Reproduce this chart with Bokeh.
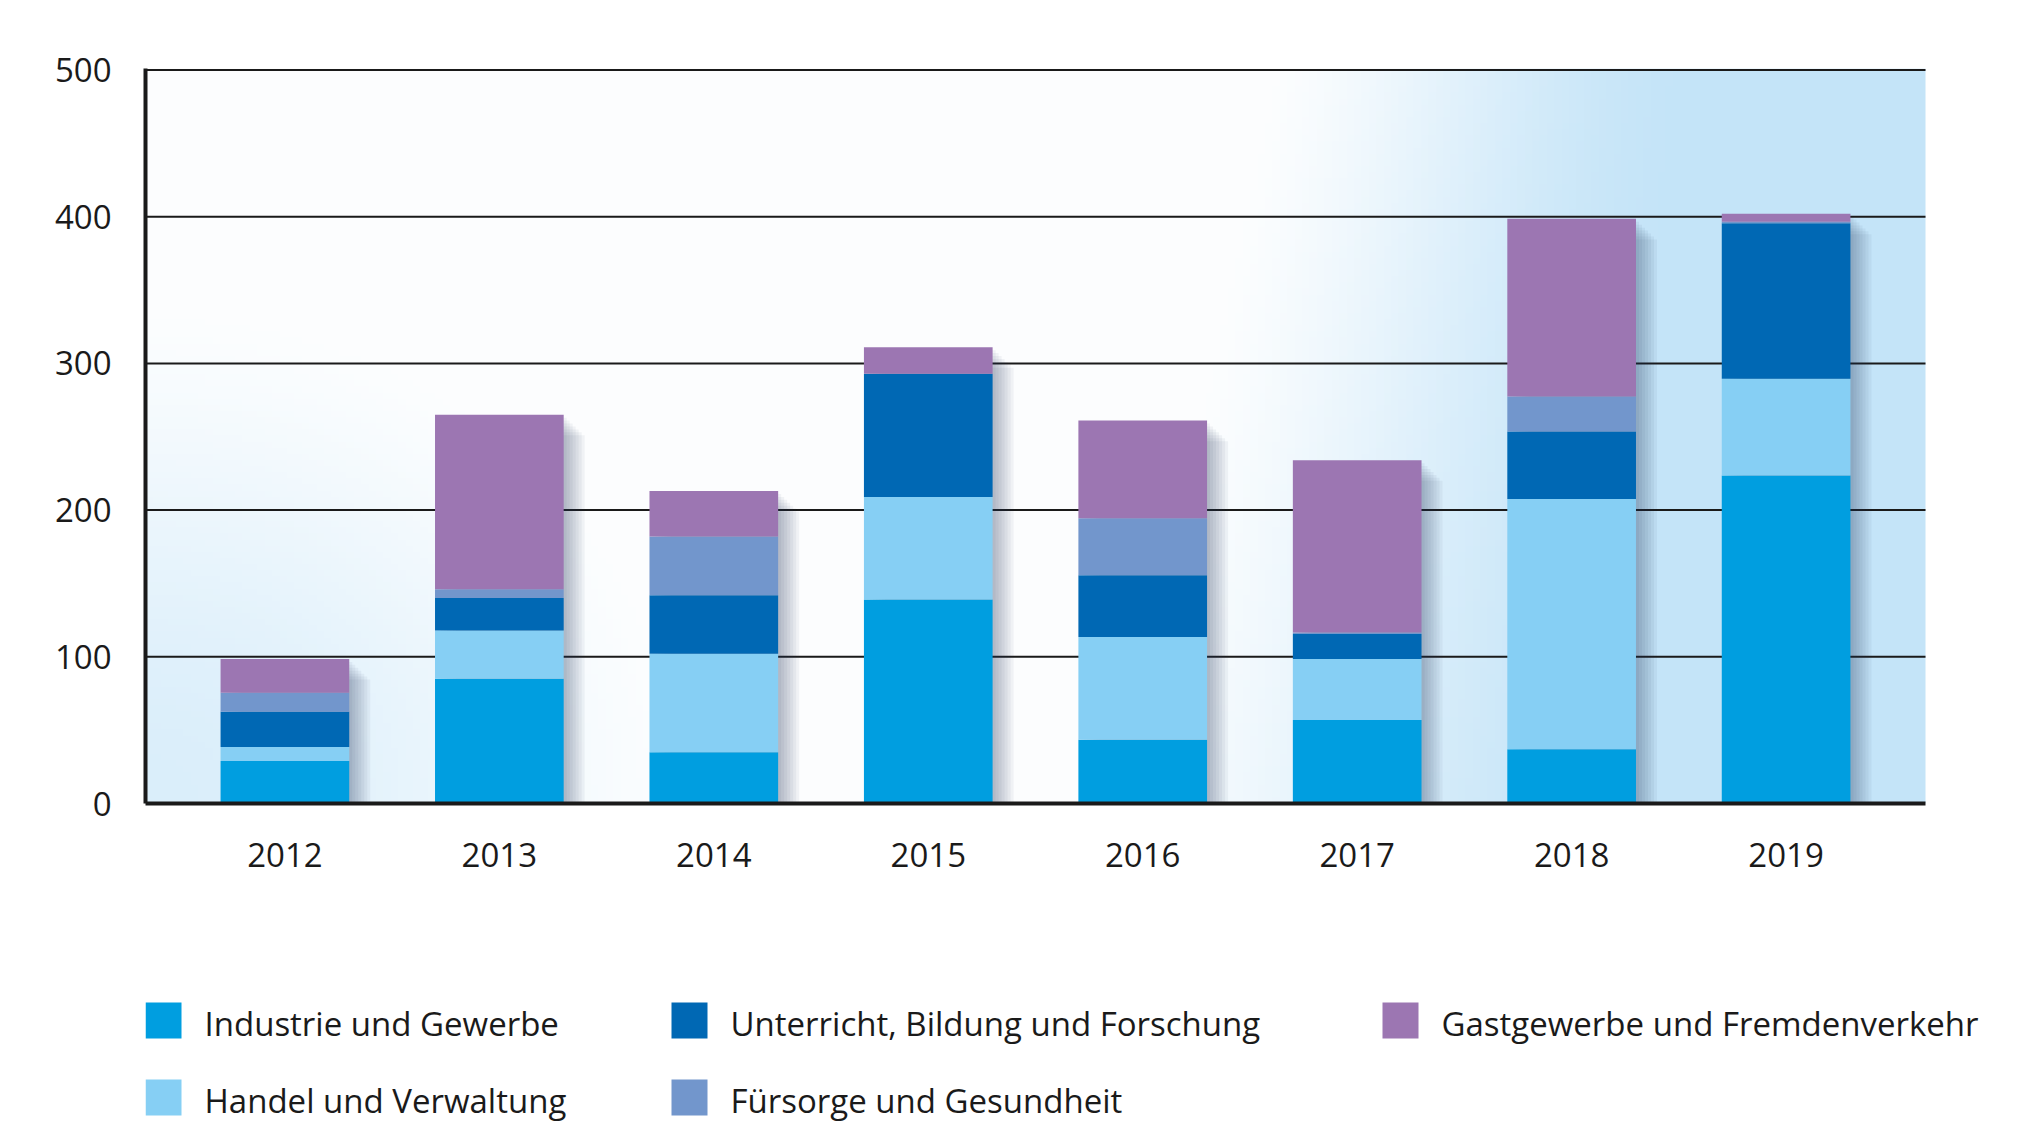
import numpy as np
from bokeh.plotting import figure
from bokeh.layouts import column
from bokeh.models import ColumnDataSource, FixedTicker, Range1d
from bokeh.core.properties import value
from bokeh.embed import file_html
from bokeh.resources import INLINE

years = ["2012", "2013", "2014", "2015", "2016", "2017", "2018", "2019"]
industrie = [29, 85, 35, 139, 43.5, 57, 37, 223.5]
handel = [9.5, 33, 67, 70, 70, 41.5, 170.5, 66]
unterricht = [24, 22, 40, 84, 42, 17, 46, 106]
fuersorge = [13, 6, 40, 0, 39, 1, 24, 1]
gast = [23, 119, 31, 18, 66.5, 117.5, 121, 5.5]
y_ticks = [0, 100, 200, 300, 400, 500]

series = ["industrie", "handel", "unterricht", "fuersorge", "gast"]
labels = ["Industrie und Gewerbe", "Handel und Verwaltung",
          "Unterricht, Bildung und Forschung", "Fürsorge und Gesundheit",
          "Gastgewerbe und Fremdenverkehr"]
colors = ["#009ee0", "#86cff4", "#0068b4", "#7296cc", "#9c76b2"]

FONT = "Open Sans"
TXT = "#1a1a1a"
W = 2008
BL, BR = 145, 8
X0, X1 = -0.65, len(years) - 0.35           # visible chart area
XEND = X0 + (W - BR - BL) * (X1 - X0) / 1780.0  # frame extends past chart (for legend room)

x = list(range(len(years)))
src = ColumnDataSource(dict(x=x, industrie=industrie, handel=handel,
                            unterricht=unterricht, fuersorge=fuersorge, gast=gast))
totals = [sum(v) for v in zip(industrie, handel, unterricht, fuersorge, gast)]

p = figure(width=W, height=908, output_backend="svg", toolbar_location=None,
           x_range=Range1d(X0, XEND), y_range=Range1d(0, 501),
           min_border_left=BL, min_border_right=BR, min_border_top=68,
           min_border_bottom=105)
p.outline_line_color = None
p.background_fill_color = "white"
p.border_fill_color = "white"

# background gradient (style only)
nx, ny = 240, 120
u = np.linspace(0, 1, nx)[None, :]
v = np.linspace(0, 1, ny)[:, None]
def sstep(a):
    a = np.clip(a, 0, 1)
    return a * a * (3 - 2 * a)
t1 = sstep((u - (0.5 + 0.1 * v)) / (0.35 - 0.07 * v))
g = 0.62 * sstep(1 - np.sqrt((u / 0.36) ** 2 + (v / 0.8) ** 2))
t = np.maximum(np.maximum(t1, g), 0.04)
blue = np.array([196, 228, 248])
img = np.empty((ny, nx), dtype=np.uint32)
view = img.view(dtype=np.uint8).reshape((ny, nx, 4))
for k in range(3):
    view[:, :, k] = (255 + (blue[k] - 255) * t).astype(np.uint8)
view[:, :, 3] = 255
p.image_rgba(image=[img], x=X0, y=0, dw=X1 - X0, dh=501, level="image")

# horizontal grid lines limited to the chart area
gl = [yt for yt in y_ticks if yt > 0]
p.segment(x0=[X0] * len(gl), x1=[X1] * len(gl), y0=gl, y1=gl,
          line_color="#1a1a1a", line_width=2, level="image")

# shadows
bw = 0.6
for i in range(1, 8):
    dx = 0.014 * i
    p.quad(left=[xi - bw / 2 + dx for xi in x], right=[xi + bw / 2 + dx for xi in x],
           bottom=0, top=[tt - 2.0 * i for tt in totals],
           fill_color="#1e3a52", fill_alpha=0.055, line_color=None)

rs = p.vbar_stack(series, x="x", width=bw, color=colors, line_color=None, source=src)

p.grid.grid_line_color = None

p.yaxis.ticker = FixedTicker(ticks=y_ticks)
p.xaxis.ticker = FixedTicker(ticks=x)
p.xaxis.bounds = (X0, X1)
p.xaxis.major_label_overrides = {i: y for i, y in enumerate(years)}
for ax in (p.xaxis[0], p.yaxis[0]):
    ax.major_tick_line_color = None
    ax.minor_tick_line_color = None
    ax.axis_line_color = "#1a1a1a"
    ax.axis_line_width = 4
    ax.major_label_text_font = FONT
    ax.major_label_text_font_size = "33px"
    ax.major_label_text_color = TXT
p.yaxis.major_label_standoff = 28
p.xaxis.major_label_standoff = 33

# legend panel below (data units = pixels)
QH = 220
q = figure(width=W, height=QH, output_backend="svg", toolbar_location=None,
           x_range=Range1d(0, W - BL - BR), y_range=Range1d(0, QH),
           min_border_left=BL, min_border_right=BR, min_border_top=0, min_border_bottom=0,
           x_axis_location=None, y_axis_location=None)
q.outline_line_color = None
q.grid.grid_line_color = None
q.background_fill_alpha = 0
q.border_fill_alpha = 0

col_x = [0, 0, 526, 526, 1237]
row_bottom = [90, 13, 90, 13, 90]
SW = 36
leg = ColumnDataSource(dict(
    left=col_x, right=[c + SW for c in col_x],
    bottom=row_bottom, top=[r + SW for r in row_bottom],
    tx=[c + 59 for c in col_x], ty=[r + 15 for r in row_bottom],
    color=colors, label=labels))
q.quad(left="left", right="right", bottom="bottom", top="top",
       fill_color="color", line_color=None, source=leg)
q.text(x="tx", y="ty", text="label", source=leg, text_font=value(FONT),
       text_font_size="33px", text_color=TXT, text_baseline="alphabetic",
       text_align="left")

open("out.html", "w").write(file_html(column(p, q, spacing=0), INLINE))
